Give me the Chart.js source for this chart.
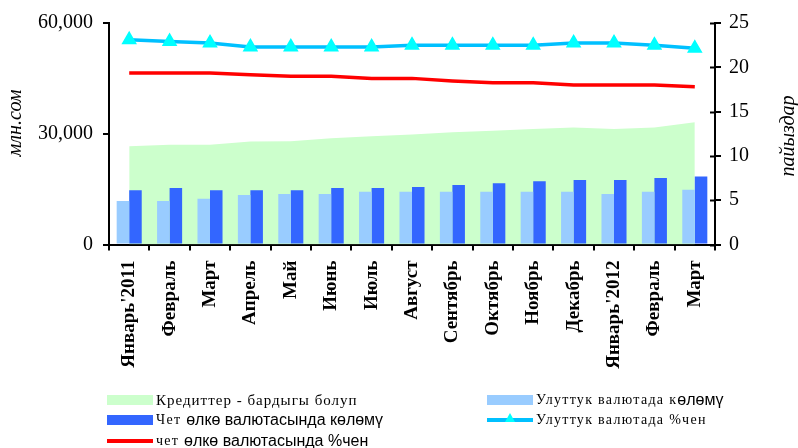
<!DOCTYPE html>
<html>
<head>
<meta charset="utf-8">
<script src="https://cdn.jsdelivr.net/npm/chart.js@4/dist/chart.umd.min.js"></script>
<style>
  body { margin: 0; background: #fff; }
  #wrap { position: relative; width: 798px; height: 448px; overflow: hidden; }
  .item { position: absolute; height: 20px; display: flex; align-items: center; white-space: pre; }
  .sw { width: 46px; height: 10px; margin-right: 3px; position: relative; }
  .ln { width: 46px; height: 4px; margin-right: 3px; position: relative; }
  .tri { position: absolute; left: 18px; top: -5px; width: 0; height: 0;
         border-left: 5px solid transparent; border-right: 5px solid transparent; border-bottom: 9px solid #00FFFF; }
  .serif { font: 14px "Liberation Serif"; letter-spacing: 1.3px; color: #000; white-space: pre; }
  .sans { font: 16px "Liberation Sans"; letter-spacing: 0; color: #000; white-space: pre; }
</style>
</head>
<body>
<div id="wrap">
  <canvas id="chart" width="798" height="448"></canvas>

  <div class="item" style="left:107px; top:390px">
    <div class="sw" style="background:#CCFFCC"></div>
    <span class="serif" style="font-size:15px; letter-spacing:1px">Кредиттер - бардыгы болуп</span>
  </div>
  <div class="item" style="left:487px; top:390px">
    <div class="sw" style="background:#99CCFF"></div>
    <span class="serif">Улуттук валютада к</span><span class="sans">өлөмү</span>
  </div>
  <div class="item" style="left:107px; top:410px">
    <div class="sw" style="background:#3366FF"></div>
    <span class="serif">Чет </span><span class="sans">өлкө валютасында көлөмү</span>
  </div>
  <div class="item" style="left:487px; top:410px">
    <div class="ln" style="background:#00C0FF"><div class="tri"></div></div>
    <span class="serif">Улуттук валютада %чен</span>
  </div>
  <div class="item" style="left:107px; top:431px">
    <div class="ln" style="background:#FF0000"></div>
    <span class="serif">чет </span><span class="sans">өлкө валютасында %чен</span>
  </div>
</div>

<script>
  // months, Jan 2011 .. Mar 2012
  const labels = ["Январь'2011", "Февраль", "Март", "Апрель", "Май", "Июнь", "Июль", "Август",
                  "Сентябрь", "Октябрь", "Ноябрь", "Декабрь", "Январь'2012", "Февраль", "Март"];

  // left axis, млн.сом
  const creditsTotal   = [26600, 27000, 27000, 27900, 28000, 28800, 29300, 29800, 30400, 30800, 31300, 31700, 31300, 31700, 33100];
  const nationalVolume = [11800, 11800, 12400, 13400, 13700, 13700, 14300, 14300, 14300, 14300, 14300, 14300, 13700, 14300, 14800];
  const foreignVolume  = [14700, 15300, 14700, 14700, 14700, 15300, 15300, 15600, 16100, 16600, 17100, 17500, 17500, 18000, 18400];

  // right axis, пайыздар
  const nationalPct = [23.1, 22.9, 22.75, 22.3, 22.3, 22.3, 22.3, 22.5, 22.5, 22.5, 22.5, 22.75, 22.75, 22.5, 22.15];
  const foreignPct  = [19.35, 19.35, 19.35, 19.15, 19.0, 19.0, 18.75, 18.75, 18.45, 18.25, 18.25, 18.0, 18.0, 18.0, 17.8];

  const leftTicks  = { min: 0, max: 60000, step: 30000 };
  const rightTicks = { min: 0, max: 25, step: 5 };

  // rotated axis titles + inner tick marks on the right axis
  const extras = {
    id: 'extras',
    afterDraw(chart) {
      const c = chart.ctx;
      c.save();
      c.fillStyle = '#000';
      c.font = 'italic 20px "Liberation Serif"';
      c.textAlign = 'center';
      c.textBaseline = 'middle';
      [[16, 123, 'млн.сом'], [789, 136, 'пайыздар']].forEach(([x, y, t]) => {
        c.save();
        c.translate(x, y);
        c.rotate(-Math.PI / 2);
        c.fillText(t, 0, 0);
        c.restore();
      });
      const s = chart.scales.y1;
      c.strokeStyle = '#000';
      c.lineWidth = 2;
      s.ticks.forEach(t => {
        const py = Math.round(s.getPixelForValue(t.value)) + 0.5;
        c.beginPath();
        c.moveTo(s.left - 5, py);
        c.lineTo(s.left, py);
        c.stroke();
      });
      c.restore();
    }
  };

  Chart.defaults.font.family = '"Liberation Serif", "Times New Roman", serif';
  Chart.defaults.color = '#000';

  new Chart(document.getElementById('chart'), {
    type: 'bar',
    data: {
      labels: labels,
      datasets: [
        {
          type: 'line',
          label: 'Кредиттер - бардыгы болуп',
          data: creditsTotal,
          yAxisID: 'y',
          fill: 'origin',
          backgroundColor: '#CCFFCC',
          borderWidth: 0,
          pointRadius: 0,
          tension: 0,
          order: 3
        },
        {
          label: 'Улуттук валютада көлөмү',
          data: nationalVolume,
          yAxisID: 'y',
          backgroundColor: '#99CCFF',
          categoryPercentage: 0.62,
          barPercentage: 1.0,
          order: 2
        },
        {
          label: 'Чет өлкө валютасында көлөмү',
          data: foreignVolume,
          yAxisID: 'y',
          backgroundColor: '#3366FF',
          categoryPercentage: 0.62,
          barPercentage: 1.0,
          order: 2
        },
        {
          type: 'line',
          label: 'Улуттук валютада %чен',
          data: nationalPct,
          yAxisID: 'y1',
          borderColor: '#00C0FF',
          borderWidth: 3.5,
          pointStyle: 'triangle',
          pointRadius: 5.5,
          pointBackgroundColor: '#00FFFF',
          pointBorderColor: '#00FFFF',
          tension: 0,
          fill: false,
          order: 1
        },
        {
          type: 'line',
          label: 'чет өлкө валютасында %чен',
          data: foreignPct,
          yAxisID: 'y1',
          borderColor: '#FF0000',
          borderWidth: 3.5,
          pointRadius: 0,
          tension: 0,
          fill: false,
          order: 1
        }
      ]
    },
    options: {
      responsive: false,
      animation: false,
      devicePixelRatio: 1,
      layout: { padding: { top: 23, left: 0, right: 0, bottom: 0 } },
      plugins: { legend: { display: false }, tooltip: { enabled: false } },
      scales: {
        x: {
          offset: true,
          grid: { offset: true, drawOnChartArea: false, color: '#000', lineWidth: 2, tickLength: 6 },
          border: { color: '#000', width: 2 },
          ticks: { font: { size: 19, weight: 'bold' }, minRotation: 90, maxRotation: 90, padding: 10, autoSkip: false },
          afterFit: s => { s.height = 203.5; }
        },
        y: {
          position: 'left',
          min: leftTicks.min, max: leftTicks.max,
          grid: { drawOnChartArea: false, color: '#000', lineWidth: 2, tickLength: 6 },
          border: { color: '#000', width: 2 },
          ticks: { stepSize: leftTicks.step, font: { size: 20 }, padding: 10,
                   callback: v => v.toLocaleString('en-US') },
          afterFit: s => { s.width = 109; }
        },
        y1: {
          position: 'right',
          min: rightTicks.min, max: rightTicks.max,
          grid: { drawOnChartArea: false, color: '#000', lineWidth: 2, tickLength: 6 },
          border: { color: '#000', width: 2 },
          ticks: { stepSize: rightTicks.step, font: { size: 20 }, padding: 8 },
          afterFit: s => { s.width = 83; }
        }
      }
    },
    plugins: [extras]
  });
</script>
</body>
</html>
